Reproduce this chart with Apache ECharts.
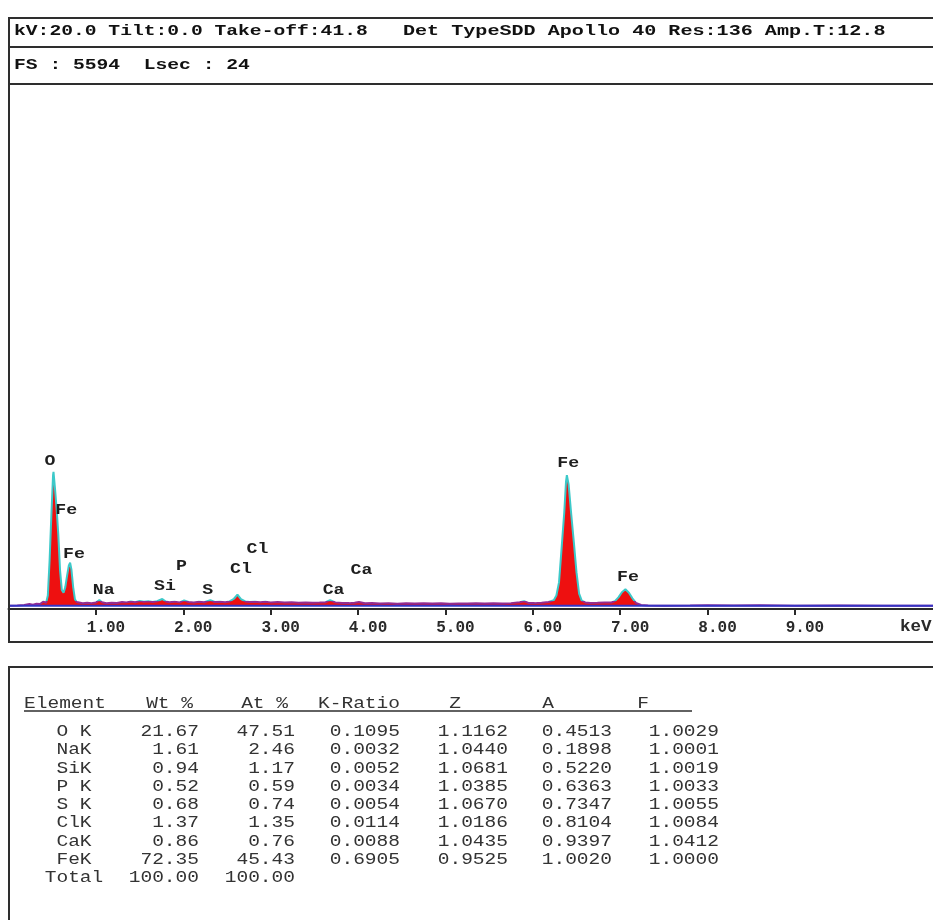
<!DOCTYPE html>
<html>
<head>
<meta charset="utf-8">
<script src="https://cdn.jsdelivr.net/npm/echarts@6/dist/echarts.min.js"></script>
<style>html,body{margin:0;padding:0;background:#fff}#c{width:933px;height:920px}</style>
</head>
<body>
<div id="c"></div>
<script>
// ---------------- data ----------------
const headerLeft = 'kV:20.0 Tilt:0.0 Take-off:41.8';
const headerRight = 'Det TypeSDD Apollo 40 Res:136 Amp.T:12.8';
const headerSecond = 'FS : 5594  Lsec : 24';
const fullScale = 5594;
const xTickValues = [1, 2, 3, 4, 5, 6, 7, 8, 9];
const xUnit = 'keV';

// spectrum: energy (keV) and counts
const energy = [0.00,0.10,0.18,0.24,0.28,0.32,0.36,0.40,0.43,0.45,0.47,0.49,0.51,0.515,0.53,0.55,0.57,0.59,0.61,0.63,0.65,0.67,0.69,0.705,0.72,0.74,0.76,0.78,
  0.80,0.85,0.90,0.95,1.00,1.04,1.07,1.12,1.18,1.24,1.30,1.35,1.40,1.45,1.50,1.55,1.60,1.65,1.70,1.76,1.80,1.84,1.90,1.96,2.01,2.06,2.12,2.18,2.24,2.31,2.36,2.42,2.48,2.53,2.58,2.62,2.66,2.71,2.76,2.82,2.88,2.94,
  3.00,3.08,3.16,3.24,3.32,3.40,3.48,3.56,3.63,3.68,3.74,3.82,3.90,3.96,4.01,4.08,4.16,4.25,4.35,4.45,4.55,4.65,4.75,4.85,4.95,5.05,5.15,5.25,5.35,5.45,5.55,5.65,5.75,5.85,5.90,5.95,6.02,
  6.10,6.18,6.24,6.27,6.30,6.33,6.36,6.38,6.39,6.41,6.44,6.47,6.50,6.53,6.56,6.60,6.66,6.74,6.82,6.90,6.94,6.98,7.02,7.06,7.10,7.14,7.18,7.24,7.32,7.50,7.80,8.00,8.30,8.60,9.00,9.50,10.00,10.58];
const counts = [0,2,8,18,12,22,18,45,30,110,480,960,1400,1436,1280,1050,760,380,170,140,200,320,430,461,390,200,70,40,
  30,26,32,28,34,62,38,27,33,29,40,36,45,38,50,42,47,40,48,72,45,38,44,36,58,40,35,42,38,60,40,44,38,46,75,120,70,46,40,44,38,42,
  36,40,34,38,33,36,31,34,38,61,36,30,28,32,40,26,30,24,28,22,26,24,27,23,26,22,25,24,27,23,26,24,28,38,48,30,28,
  33,40,60,110,250,620,1000,1330,1401,1300,980,680,360,130,55,35,30,32,36,35,50,90,145,176,140,80,30,8,2,0,2,4,3,5,0,2,0,0];

// element line labels on the spectrum
const peakLabelText   = ['O',  'Fe', 'Fe', 'Na', 'Si', 'P',  'S',  'Cl', 'Cl', 'Ca', 'Ca', 'Fe', 'Fe'];
const peakLabelEnergy = [0.475,0.66, 0.75, 1.09, 1.79, 1.98, 2.28, 2.85, 2.66, 4.04, 3.72, 6.405,7.09];
const peakLabelCounts = [1544, 1018, 552,  163,  204,  418,  168,  605,  390,  383,  168,  1527, 304];

// quantification table
const tableHeader = ['Element', 'Wt %', 'At %', 'K-Ratio', 'Z', 'A', 'F'];
const elements = ['O K', 'NaK', 'SiK', 'P K', 'S K', 'ClK', 'CaK', 'FeK', 'Total'];
const wtPct  = [21.67, 1.61, 0.94, 0.52, 0.68, 1.37, 0.86, 72.35, 100.00];
const atPct  = [47.51, 2.46, 1.17, 0.59, 0.74, 1.35, 0.76, 45.43, 100.00];
const kRatio = [0.1095, 0.0032, 0.0052, 0.0034, 0.0054, 0.0114, 0.0088, 0.6905];
const zFac   = [1.1162, 1.0440, 1.0681, 1.0385, 1.0670, 1.0186, 1.0435, 0.9525];
const aFac   = [0.4513, 0.1898, 0.5220, 0.6363, 0.7347, 0.8104, 0.9397, 1.0020];
const fFac   = [1.0029, 1.0001, 1.0019, 1.0033, 1.0055, 1.0084, 1.0412, 1.0000];

// ---------------- chart ----------------
const W = 933, H = 920;
const gridLeft = 8.5, gridTop = 84, axisY = 609;
const xMax = 10.58;
const mono = '"Liberation Mono","DejaVu Sans Mono",monospace';

const chart = echarts.init(document.getElementById('c'), null, {renderer: 'canvas'});
const spectrum = energy.map((e, i) => [e, counts[i]]);

chart.setOption({
  animation: false,
  backgroundColor: '#fff',
  grid: {left: gridLeft, right: 0, top: gridTop, bottom: H - axisY, containLabel: false},
  xAxis: {
    type: 'value', min: 0, max: xMax,
    axisLine: {onZero: false, lineStyle: {color: '#2a2a2a', width: 2}},
    axisTick: {customValues: xTickValues, length: 6, lineStyle: {color: '#2a2a2a', width: 2}},
    axisLabel: {customValues: xTickValues, formatter: v => v.toFixed(2), margin: 11,
      fontFamily: mono, fontWeight: 'bold', fontSize: 16, color: '#2a2a2a', padding: [0, 0, 0, 20]},
    splitLine: {show: false}
  },
  yAxis: {type: 'value', min: -35, max: fullScale, show: false},
  visualMap: {
    type: 'piecewise', show: false, seriesIndex: 0, dimension: 1,
    pieces: [{gte: -100, lt: 55, color: '#922c92'}, {gte: 55, lte: 10000, color: '#3cc9c9'}]
  },
  series: [
    {
      type: 'line', data: spectrum, symbol: 'none', showSymbol: false, z: 2,
      lineStyle: {width: 2},
      areaStyle: {color: '#ee1010', opacity: 1}
    },
    {
      type: 'line', data: [[0, 0], [xMax, 0]], symbol: 'none', z: 3, silent: true,
      lineStyle: {color: '#3434c4', width: 2}
    }
  ]
});

// ---------------- frame, texts ----------------
const g = [];
const stroke = '#2e2e2e';
function hline(y, x1, x2, w) { g.push({type: 'line', shape: {x1: x1, y1: y, x2: x2, y2: y}, style: {stroke: stroke, lineWidth: w || 2}, z: 10}); }
function vline(x, y1, y2, w) { g.push({type: 'line', shape: {x1: x, y1: y1, x2: x, y2: y2}, style: {stroke: stroke, lineWidth: w || 2}, z: 10}); }
function text(t, x, y, opt) {
  const align = opt.align || 'left';
  g.push({type: 'text', x: x, y: y, scaleX: opt.sx || 1, z: 11,
    style: {text: t, font: opt.font, fill: opt.color || '#111',
      align: align, textAlign: align, verticalAlign: 'middle', textVerticalAlign: 'middle'}});
}

// chart box
hline(18, 8.5, W, 2);
hline(47, 8.5, W, 2);
hline(gridTop, 8.5, W, 2);
hline(642, 8.5, W, 2);
vline(9, 17, 643, 2);
// table box
hline(667, 8.5, W, 2);
vline(9, 666, H, 2);

const headFont = 'bold 15px ' + mono;
text(headerLeft, 14, 31, {font: headFont, sx: 1.31, color: '#111'});
text(headerRight, 403, 31, {font: headFont, sx: 1.34, color: '#111'});
text(headerSecond, 14, 65, {font: headFont, sx: 1.31, color: '#111'});

// axis unit
text(xUnit, 900, 627, {font: 'bold 16px ' + mono, sx: 1.1, color: '#2a2a2a'});

// peak labels via the chart's coordinate system
const peakFont = 'bold 14px ' + mono;
peakLabelText.forEach((t, i) => {
  const p = chart.convertToPixel({gridIndex: 0}, [peakLabelEnergy[i], peakLabelCounts[i]]);
  text(t, p[0], p[1], {font: peakFont, sx: 1.3, align: 'center', color: '#1e1e1e'});
});

// table
const tFont = '16px ' + mono;
const tsx = 1.22;
const tColor = '#333';
const headY = 704;
text(tableHeader[0], 24, headY, {font: tFont, sx: tsx, color: tColor});
text(tableHeader[1], 193, headY, {font: tFont, sx: tsx, align: 'right', color: tColor});
text(tableHeader[2], 288, headY, {font: tFont, sx: tsx, align: 'right', color: tColor});
text(tableHeader[3], 400, headY, {font: tFont, sx: tsx, align: 'right', color: tColor});
text(tableHeader[4], 455, headY, {font: tFont, sx: tsx, align: 'center', color: tColor});
text(tableHeader[5], 548, headY, {font: tFont, sx: tsx, align: 'center', color: tColor});
text(tableHeader[6], 643, headY, {font: tFont, sx: tsx, align: 'center', color: tColor});
hline(711, 24, 692, 1.5);

const row0 = 731.7, rowStep = 18.3;
elements.forEach((el, i) => {
  const y = row0 + i * rowStep;
  text(el, 74, y, {font: tFont, sx: tsx, align: 'center', color: tColor});
  text(wtPct[i].toFixed(2), 199, y, {font: tFont, sx: tsx, align: 'right', color: tColor});
  text(atPct[i].toFixed(2), 295, y, {font: tFont, sx: tsx, align: 'right', color: tColor});
  if (i < kRatio.length) {
    text(kRatio[i].toFixed(4), 400, y, {font: tFont, sx: tsx, align: 'right', color: tColor});
    text(zFac[i].toFixed(4), 508, y, {font: tFont, sx: tsx, align: 'right', color: tColor});
    text(aFac[i].toFixed(4), 612, y, {font: tFont, sx: tsx, align: 'right', color: tColor});
    text(fFac[i].toFixed(4), 719, y, {font: tFont, sx: tsx, align: 'right', color: tColor});
  }
});

chart.setOption({graphic: {elements: g}});
</script>
</body>
</html>
